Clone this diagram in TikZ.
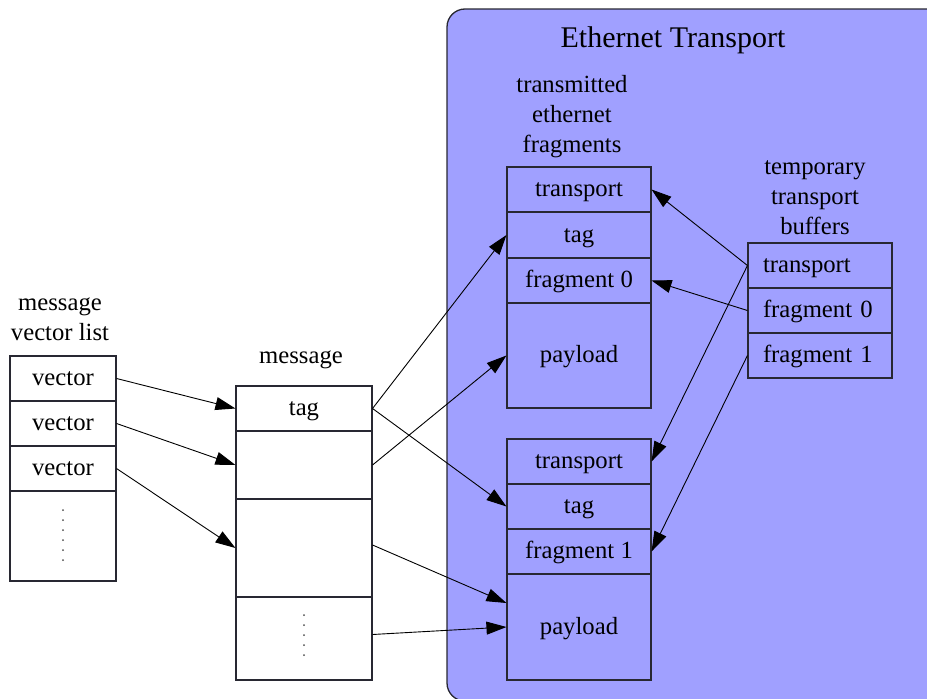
\documentclass[tikz,border=0pt]{standalone}
\usepackage{fontspec}
\setmainfont{Liberation Serif}
\usetikzlibrary{arrows.meta,calc}

\definecolor{clusterblue}{RGB}{160,160,255}
\definecolor{edgegray}{RGB}{40,40,50}

\tikzset{
  lbl/.style={font=\fontsize{24.7}{30}\selectfont, align=center, inner sep=0pt},
  cell/.style={draw=edgegray, line width=1.1pt, inner sep=0pt,
    font=\fontsize{24.7}{30}\selectfont, text height=17.3pt, text depth=2.4pt},
  lcell/.style={cell, text width=114pt, inner xsep=15pt, align=left},
  link/.style={draw=black, line width=0.9pt,
    -{Triangle[length=20pt,width=13pt]}},
  dot/.style={fill=black!70, draw=none},
}

\begin{document}
\begin{tikzpicture}[x=1pt, y=-1pt]
\useasboundingbox (0,0) rectangle (927,699);

% Ethernet transport cluster
\begin{scope}
  \clip (0,0) rectangle (927,699);
  \draw[draw=edgegray, line width=1.3pt, fill=clusterblue, rounded corners=18pt]
    (447,9) rectangle (945,701);
\end{scope}
\node[lbl, font=\fontsize{30}{34}\selectfont, anchor=base] (title) at (673,47) {Ethernet Transport};

% message vector list (anchor = baseline of the last line)
\node[lbl, anchor=base] (vlabel) at (60,340) {message\\vector list};
\node[cell, minimum width=106pt, minimum height=45pt] (v1) at (63,378.5) {vector};
\node[cell, minimum width=106pt, minimum height=45pt] (v2) at (63,423.5) {vector};
\node[cell, minimum width=106pt, minimum height=45pt] (v3) at (63,468.5) {vector};
\node[cell, minimum width=106pt, minimum height=90pt] (v4) at (63,536) {};
\foreach \k in {0,...,5} \fill[dot] (63,510+10*\k) circle (1pt);

% message
\node[lbl, anchor=base] (mlabel) at (301,363) {message};
\node[cell, minimum width=136pt, minimum height=45pt] (m1) at (304,408.5) {tag};
\node[cell, minimum width=136pt, minimum height=68pt] (m2) at (304,465) {};
\node[cell, minimum width=136pt, minimum height=98pt] (m3) at (304,548) {};
\node[cell, minimum width=136pt, minimum height=83pt] (m4) at (304,638.5) {};
\foreach \k in {0,...,4} \fill[dot] (304,615+10*\k) circle (1pt);

% transmitted ethernet fragments
\node[lbl, anchor=base] (flabel) at (572,152) {transmitted\\ethernet\\fragments};
\node[cell, minimum width=144pt, minimum height=45pt] (t1) at (579,189.5) {transport};
\node[cell, minimum width=144pt, minimum height=46pt] (t2) at (579,235) {tag};
\node[cell, minimum width=144pt, minimum height=45pt] (t3) at (579,280.5) {fragment 0};
\node[cell, minimum width=144pt, minimum height=105pt] (t4) at (579,355.5) {payload};

\node[cell, minimum width=144pt, minimum height=45pt] (b1) at (579,461.5) {transport};
\node[cell, minimum width=144pt, minimum height=45pt] (b2) at (579,506.5) {tag};
\node[cell, minimum width=144pt, minimum height=45pt] (b3) at (579,551.5) {fragment 1};
\node[cell, minimum width=144pt, minimum height=106pt] (b4) at (579,627) {payload};

% temporary transport buffers
\node[lbl, anchor=base] (blabel) at (815,234) {temporary\\transport\\buffers};
\node[lcell, minimum height=45pt] (c1) at (820,265.5) {transport};
\node[lcell, minimum height=45pt] (c2) at (820,310.5) {fragment 0};
\node[lcell, minimum height=45pt] (c3) at (820,355.5) {fragment 1};

% vector list to message
\draw[link] (v1.east) -- (m1.west);
\draw[link] (v2.east) -- (m2.west);
\draw[link] (v3.east) -- (m3.west);

% message to fragments
\draw[link] (m1.east) -- (t2.west);
\draw[link] (m1.east) -- (b2.west);
\draw[link] (m2.east) -- (t4.west);
\draw[link] ([yshift=3pt]m3.east) -- ([yshift=24pt]b4.west);
\draw[link] ([yshift=4pt]m4.east) -- (b4.west);

% buffers to fragments
\draw[link] (c1.west) -- (t1.east);
\draw[link] (c2.west) -- (t3.east);
\draw[link] (c1.west) -- (b1.east);
\draw[link] (c3.west) -- (b3.east);
\end{tikzpicture}
\end{document}
